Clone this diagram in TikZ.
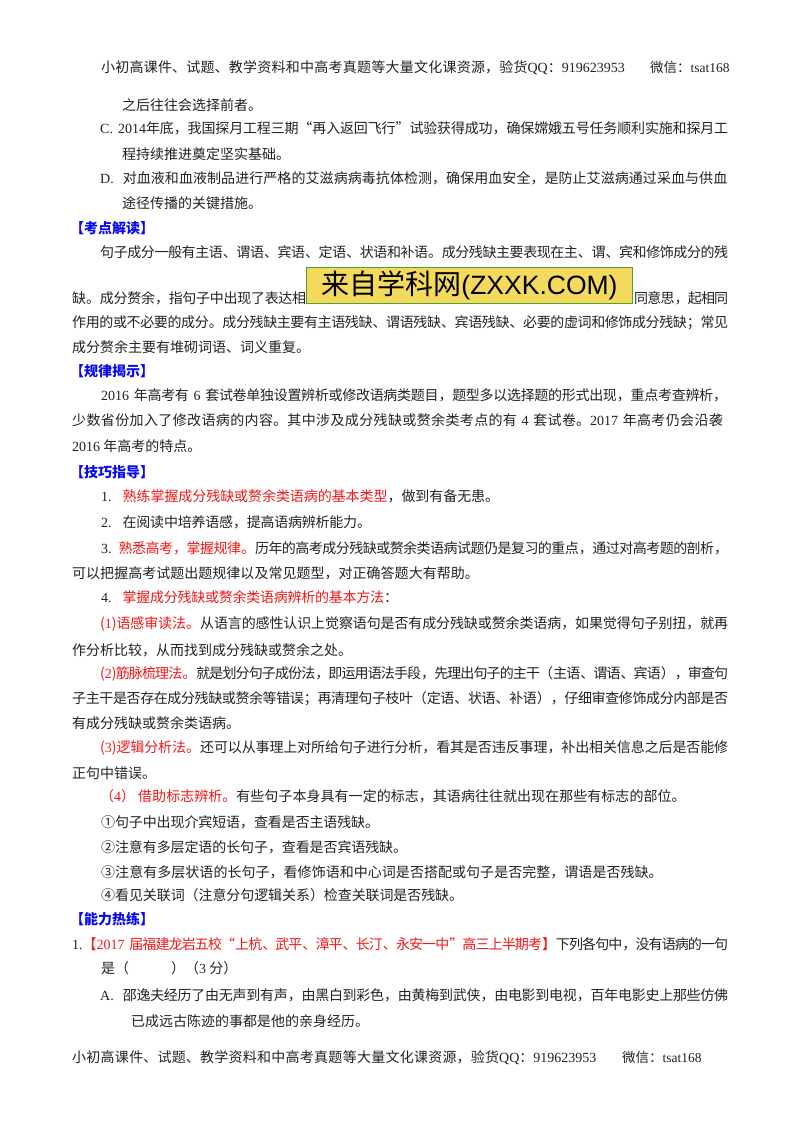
\documentclass[tikz,border=0pt]{standalone}
\usepackage{fontspec}
\usepackage{tikz}
\usetikzlibrary{positioning}
\setmainfont{Noto Sans CJK SC}
\newfontfamily\latinfont{Liberation Serif}
\newfontfamily\bannerlatin{Liberation Sans}
\newcommand{\lat}[1]{{\latinfont #1}}
\newcommand{\hot}[1]{\textcolor{hotred}{#1}}
\XeTeXlinebreaklocale "zh"
\XeTeXlinebreakskip=0pt plus 2pt minus 1pt
\definecolor{hotred}{HTML}{F01818}
\definecolor{headblue}{HTML}{0A0AF0}
\definecolor{bodygray}{HTML}{222222}
\definecolor{bannerfill}{HTML}{F4DA5C}
\definecolor{bannerline}{HTML}{4FA030}
\tikzset{
  textline/.style={anchor=base west,inner sep=0pt,text=bodygray,font=\fontsize{14}{14}\selectfont},
  wechatline/.style={textline,font=\fontsize{13.5}{14}\selectfont},
  fullline/.style={textline,text width=#1,execute at begin node={\tolerance=9999\hbadness=10000\hfuzz=5pt\parfillskip=0pt\relax}},
  headline/.style={textline,text=headblue,font=\fontsize{14}{14}\selectfont\bfseries},
  bannerbox/.style={draw=bannerline,line width=1pt,fill=bannerfill,anchor=north west,inner sep=0pt,minimum width=326pt,minimum height=36pt,text=black,font=\fontsize{28}{28}\selectfont}
}
\begin{document}
\begin{tikzpicture}[x=1pt,y=-1pt]
  \useasboundingbox[fill=white] (0,0) rectangle (800,1132);
  % Top line of the page
  \node[fullline=527] (toptext) at (101,72) {小初高课件、试题、教学资料和中高考真题等大量文化课资源，验货\lat{QQ}：\lat{919623953}};
  \node[wechatline] (topwechat) at (650,72) {微信：\lat{tsat168}};
  % Options C and D
  \node[textline] (b1) at (122,110) {之后往往会选择前者。};
  \node[fullline=628] (c1) at (100,133) {\lat{C.}\hspace{5pt}\lat{2014}年底，我国探月工程三期“再入返回飞行”试验获得成功，确保嫦娥五号任务顺利实施和探月工};
  \node[textline] (c2) at (122,159) {程持续推进奠定坚实基础。};
  \node[fullline=628] (d1) at (100,183) {\lat{D.}\hspace{9pt}对血液和血液制品进行严格的艾滋病病毒抗体检测，确保用血安全，是防止艾滋病通过采血与供血};
  \node[textline] (d2) at (122,208) {途径传播的关键措施。};
  % Reading of the test point
  \node[headline] (headread) at (70,233) {【考点解读】};
  \node[fullline=628] (read1) at (100,257) {句子成分一般有主语、谓语、宾语、定语、状语和补语。成分残缺主要表现在主、谓、宾和修饰成分的残};
  \node[fullline=234] (read2) at (72,303) {缺。成分赘余，指句子中出现了表达相};
  \node[bannerbox] (banner) at (306,267) {来自学科网{\bannerlatin\fontsize{26.5}{28}\selectfont (ZXXK.COM)}};
  \node[fullline=94] (read3) at (634,303) {同意思，起相同};
  \node[fullline=656] (read4) at (72,327) {作用的或不必要的成分。成分残缺主要有主语残缺、谓语残缺、宾语残缺、必要的虚词和修饰成分残缺；常见};
  \node[textline] (read5) at (72,352) {成分赘余主要有堆砌词语、词义重复。};
  % Rules
  \node[headline] (headrule) at (70,376) {【规律揭示】};
  \node[fullline=626] (rule1) at (101,400) {\lat{2016} 年高考有 \lat{6} 套试卷单独设置辨析或修改语病类题目，题型多以选择题的形式出现，重点考查辨析，};
  \node[fullline=656] (rule2) at (72,425) {少数省份加入了修改语病的内容。其中涉及成分残缺或赘余类考点的有 \lat{4} 套试卷。\lat{2017} 年高考仍会沿袭};
  \node[textline] (rule3) at (72,451) {\lat{2016} 年高考的特点。};
  % Skills
  \node[headline] (headskill) at (70,477) {【技巧指导】};
  \node[fullline=398] (skill1) at (101,501) {\lat{1.}\hspace{11pt}\hot{熟练掌握成分残缺或赘余类语病的基本类型}，做到有备无患。};
  \node[fullline=270] (skill2) at (101,527) {\lat{2.}\hspace{11pt}在阅读中培养语感，提高语病辨析能力。};
  \node[fullline=627] (skill3) at (101,553) {\lat{3.} \hot{熟悉高考，掌握规律。}历年的高考成分残缺或赘余类语病试题仍是复习的重点，通过对高考题的剖析，};
  \node[fullline=407] (skill3b) at (72,578) {可以把握高考试题出题规律以及常见题型，对正确答题大有帮助。};
  \node[fullline=297] (skill4) at (101,602) {\lat{4.}\hspace{11pt}\hot{掌握成分残缺或赘余类语病辨析的基本方法}：};
  % Methods
  \node[fullline=628] (way1) at (100,628) {\hot{(\lat{1})语感审读法。}从语言的感性认识上觉察语句是否有成分残缺或赘余类语病，如果觉得句子别扭，就再};
  \node[textline] (way1b) at (72,655) {作分析比较，从而找到成分残缺或赘余之处。};
  \node[fullline=628] (way2) at (100,678) {\hot{(\lat{2})筋脉梳理法。}就是划分句子成份法，即运用语法手段，先理出句子的主干（主语、谓语、宾语），审查句};
  \node[fullline=656] (way2b) at (72,703) {子主干是否存在成分残缺或赘余等错误；再清理句子枝叶（定语、状语、补语），仔细审查修饰成分内部是否};
  \node[textline] (way2c) at (72,728) {有成分残缺或赘余类语病。};
  \node[fullline=628] (way3) at (100,752) {\hot{(\lat{3})逻辑分析法。}还可以从事理上对所给句子进行分析，看其是否违反事理，补出相关信息之后是否能修};
  \node[textline] (way3b) at (72,778) {正句中错误。};
  \node[fullline=586] (way4) at (100,801) {\hot{（\lat{4}）\hspace{3pt}借助标志辨析。}有些句子本身具有一定的标志，其语病往往就出现在那些有标志的部位。};
  \node[fullline=278] (mark1) at (101,827) {①句子中出现介宾短语，查看是否主语残缺。};
  \node[fullline=306] (mark2) at (101,852) {②注意有多层定语的长句子，查看是否宾语残缺。};
  \node[fullline=562] (mark3) at (101,877) {③注意有多层状语的长句子，看修饰语和中心词是否搭配或句子是否完整，谓语是否残缺。};
  \node[fullline=362] (mark4) at (101,900) {④看见关联词（注意分句逻辑关系）检查关联词是否残缺。};
  % Practice
  \node[headline] (headdrill) at (70,924) {【能力热练】};
  \node[fullline=656] (q1) at (72,949) {\lat{1.}\hot{【\lat{2017} 届福建龙岩五校“上杭、武平、漳平、长汀、永安一中”高三上半期考】}下列各句中，没有语病的一句};
  \node[textline] (q1b) at (101,973) {是（\hspace{42pt}）（\lat{3} 分）};
  \node[fullline=628] (qa) at (100,1000) {\lat{A.}\hspace{9pt}邵逸夫经历了由无声到有声，由黑白到彩色，由黄梅到武侠，由电影到电视，百年电影史上那些仿佛};
  \node[textline] (qab) at (131,1026) {已成远古陈迹的事都是他的亲身经历。};
  % Bottom line of the page
  \node[fullline=528] (bottext) at (72,1062) {小初高课件、试题、教学资料和中高考真题等大量文化课资源，验货\lat{QQ}：\lat{919623953}};
  \node[wechatline] (botwechat) at (622,1062) {微信：\lat{tsat168}};
\end{tikzpicture}
\end{document}
